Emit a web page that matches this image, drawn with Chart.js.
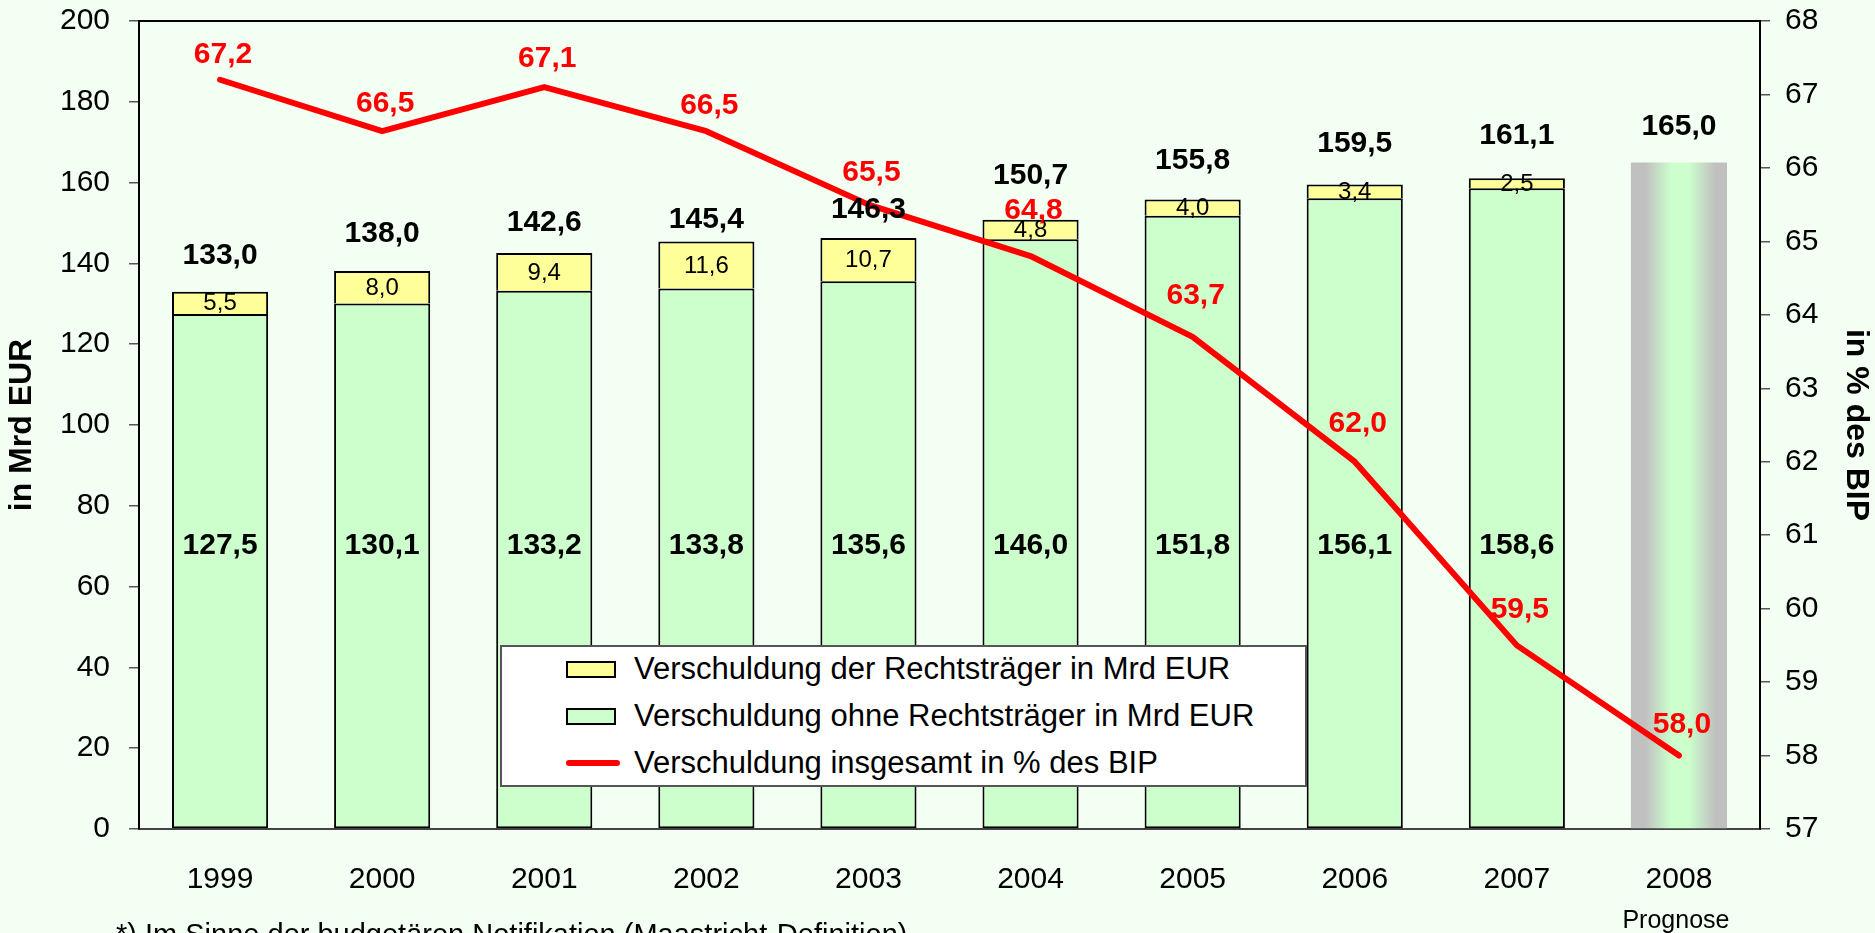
<!DOCTYPE html>
<html>
<head>
<meta charset="utf-8">
<script src="https://cdn.jsdelivr.net/npm/chart.js@4.4.1/dist/chart.umd.min.js"></script>
<style>
  html, body { margin: 0; padding: 0; background: #F3FFF3; }
  #wrap { position: relative; width: 1875px; height: 933px; overflow: hidden; }
  #legend {
    position: absolute; left: 500px; top: 645px; width: 807px; height: 142px;
    box-sizing: border-box; background: #fff; border: 2px solid #555;
    font-family: Arial, 'Liberation Sans', sans-serif; font-size: 31px; color: #000;
  }
  .row { position: absolute; left: 64px; height: 36px; display: flex; align-items: center; white-space: nowrap; }
  .sw { width: 50px; height: 17px; border: 2px solid #000; box-sizing: border-box; margin-right: 18px; }
  .ln { width: 54px; height: 6px; background: #FF0000; border-radius: 3px; margin-right: 14px; }
</style>
</head>
<body>
<div id="wrap">
  <canvas id="chart" width="1875" height="933"></canvas>
  <div id="legend">
    <div class="row" style="top:4px"><span class="sw" style="background:#FFFF99"></span>Verschuldung der Rechtsträger in Mrd EUR</div>
    <div class="row" style="top:51px"><span class="sw" style="background:#CCFFCC"></span>Verschuldung ohne Rechtsträger in Mrd EUR</div>
    <div class="row" style="top:98px"><span class="ln"></span>Verschuldung insgesamt in % des BIP</div>
  </div>
</div>
<script>
// Staatsschulden 1999-2008 (Mrd EUR und % des BIP)
const years = ['1999', '2000', '2001', '2002', '2003', '2004', '2005', '2006', '2007', '2008'];
const debtCore = [127.5, 130.1, 133.2, 133.8, 135.6, 146.0, 151.8, 156.1, 158.6, null];
const debtEntities = [5.5, 8.0, 9.4, 11.6, 10.7, 4.8, 4.0, 3.4, 2.5, null];
const debtForecast = [null, null, null, null, null, null, null, null, null, 165.0];
const debtTotals = [133.0, 138.0, 142.6, 145.4, 146.3, 150.7, 155.8, 159.5, 161.1, 165.0];
const debtGdpPct = [67.2, 66.5, 67.1, 66.5, 65.5, 64.8, 63.7, 62.0, 59.5, 58.0];

const FONT = "Arial, 'Liberation Sans', sans-serif";
const BAR_PCT = 0.593;
// how far each label sits above its bar top / line point (px)
const totalLift = [36, 38, 30, 22, 28, 44, 39, 41, 42, 36];
const pctLift = [25, 27, 28, 25, 32, 45, 41, 38, 36, 31];

const fmt = v => v.toFixed(1).replace('.', ',');

function forecastFill(context) {
    const chart = context.chart;
    if (!chart.chartArea) return '#CCFFCC';
    const xs = chart.scales.x;
    const cx = xs.getPixelForValue(9);
    const half = xs.width / years.length * BAR_PCT / 2;
    const g = chart.ctx.createLinearGradient(cx - half, 0, cx + half, 0);
    g.addColorStop(0, '#C0C0C0');
    g.addColorStop(0.15, '#C0C0C0');
    g.addColorStop(0.42, '#CCFFCC');
    g.addColorStop(0.6, '#CCFFCC');
    g.addColorStop(0.88, '#C0C0C0');
    g.addColorStop(1, '#C0C0C0');
    return g;
}

// no extra room for half tick labels, the plot box is fixed
function noPad(s) {
    s.paddingTop = 0;
    s.paddingBottom = 0;
    s.paddingLeft = 0;
    s.paddingRight = 0;
}

const frame = {
    id: 'frame',
    beforeDatasetsDraw(chart) {
        const {ctx, chartArea: a} = chart;
        ctx.save();
        ctx.strokeStyle = '#000';
        ctx.lineWidth = 2;
        ctx.beginPath();
        ctx.moveTo(a.left, a.top);
        ctx.lineTo(a.right, a.top);
        ctx.stroke();
        ctx.restore();
    }
};

const valueLabels = {
    id: 'valueLabels',
    afterDatasetsDraw(chart) {
        const {ctx, scales: {x, y, y1}} = chart;
        ctx.save();
        ctx.textAlign = 'center';
        ctx.textBaseline = 'middle';
        years.forEach((yr, i) => {
            const cx = x.getPixelForValue(i);
            if (debtCore[i] != null) {
                ctx.font = 'bold 30px ' + FONT;
                ctx.fillStyle = '#000';
                ctx.fillText(fmt(debtCore[i]), cx, y.getPixelForValue(70));
            }
            if (debtEntities[i] != null) {
                const mid = debtCore[i] + debtEntities[i] / 2;
                ctx.font = '24px ' + FONT;
                ctx.fillStyle = '#000';
                ctx.fillText(fmt(debtEntities[i]), cx, y.getPixelForValue(mid) + 1);
            }
            ctx.font = 'bold 30px ' + FONT;
            ctx.fillStyle = '#000';
            ctx.fillText(fmt(debtTotals[i]), cx, y.getPixelForValue(debtTotals[i]) - totalLift[i]);
        });
        years.forEach((yr, i) => {
            const cx = x.getPixelForValue(i);
            ctx.font = 'bold 30px ' + FONT;
            ctx.fillStyle = '#FF0000';
            ctx.fillText(fmt(debtGdpPct[i]), cx + 3, y1.getPixelForValue(debtGdpPct[i]) - pctLift[i]);
        });
        ctx.restore();
    },
    afterDraw(chart) {
        const {ctx, scales: {x}} = chart;
        ctx.save();
        ctx.fillStyle = '#000';
        ctx.textBaseline = 'alphabetic';
        ctx.textAlign = 'center';
        ctx.font = '25px ' + FONT;
        ctx.fillText('Prognose', x.getPixelForValue(9) - 3, 928);
        ctx.textAlign = 'left';
        ctx.font = '29px ' + FONT;
        ctx.fillText('*) Im Sinne der budgetären Notifikation (Maastricht-Definition)', 116, 944);
        ctx.restore();
    }
};

new Chart(document.getElementById('chart'), {
    data: {
        labels: years,
        datasets: [
            {
                type: 'line',
                label: 'Verschuldung insgesamt in % des BIP',
                data: debtGdpPct,
                yAxisID: 'y1',
                borderColor: '#FF0000',
                borderWidth: 6,
                borderCapStyle: 'round',
                borderJoinStyle: 'round',
                pointRadius: 0,
                tension: 0,
                order: 0
            },
            {
                type: 'bar',
                label: 'Verschuldung ohne Rechtsträger in Mrd EUR',
                data: debtCore,
                yAxisID: 'y',
                stack: 'debt',
                backgroundColor: '#CCFFCC',
                borderColor: '#000',
                borderWidth: 2,
                borderSkipped: false,
                barPercentage: BAR_PCT,
                categoryPercentage: 1,
                order: 1
            },
            {
                type: 'bar',
                label: 'Verschuldung der Rechtsträger in Mrd EUR',
                data: debtEntities,
                yAxisID: 'y',
                stack: 'debt',
                backgroundColor: '#FFFF99',
                borderColor: '#000',
                borderWidth: 2,
                borderSkipped: 'bottom',
                barPercentage: BAR_PCT,
                categoryPercentage: 1,
                order: 1
            },
            {
                type: 'bar',
                label: 'Prognose',
                data: debtForecast,
                yAxisID: 'y',
                stack: 'debt',
                backgroundColor: forecastFill,
                borderWidth: 0,
                barPercentage: BAR_PCT,
                categoryPercentage: 1,
                order: 1
            }
        ]
    },
    options: {
        responsive: false,
        animation: false,
        layout: { padding: { top: 21, left: 0, right: 0, bottom: 0 } },
        scales: {
            x: {
                stacked: true,
                afterFit: s => { s.height = 104; noPad(s); },
                grid: { display: false },
                border: { color: '#444', width: 2 },
                ticks: { color: '#000', font: { family: FONT, size: 30 }, padding: 25, maxRotation: 0 }
            },
            y: {
                stacked: true,
                position: 'left',
                min: 0,
                max: 200,
                afterFit: s => { s.width = 139; noPad(s); },
                ticks: { stepSize: 20, color: '#000', font: { family: FONT, size: 30 }, padding: 19 },
                grid: { drawOnChartArea: false, tickLength: 10, color: '#555', lineWidth: 1.5 },
                border: { color: '#000', width: 2 },
                title: { display: true, text: 'in Mrd EUR', color: '#000', font: { family: FONT, size: 32, weight: 'bold' }, padding: { top: 3, bottom: 0 } }
            },
            y1: {
                position: 'right',
                min: 57,
                max: 68,
                afterFit: s => { s.width = 115; noPad(s); },
                ticks: { stepSize: 1, color: '#000', font: { family: FONT, size: 30 }, padding: 15 },
                grid: { drawOnChartArea: false, tickLength: 10, color: '#555', lineWidth: 1.5 },
                border: { color: '#000', width: 2 },
                title: { display: true, text: 'in % des BIP', color: '#000', font: { family: FONT, size: 32, weight: 'bold' }, padding: { top: 0, bottom: 0 } }
            }
        },
        plugins: {
            legend: { display: false },
            tooltip: { enabled: false }
        }
    },
    plugins: [frame, valueLabels]
});
</script>
</body>
</html>
